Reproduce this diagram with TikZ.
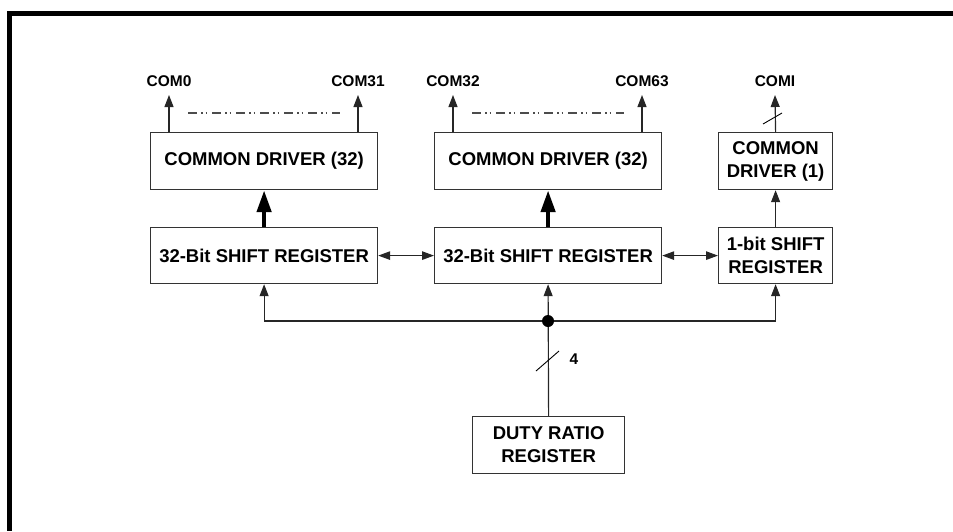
\documentclass[tikz,border=0pt]{standalone}
\usepackage{fontspec}
\setmainfont{Liberation Sans}
\usetikzlibrary{arrows.meta}
\tikzset{
  x=1pt,y=-1pt,
  blk/.style={draw=black!80,line width=1.2pt,align=center,inner sep=0pt,anchor=north west,font=\fontsize{18.5}{23}\selectfont\bfseries},
  lbl/.style={inner sep=0pt,font=\fontsize{15.5}{18}\selectfont\bfseries},
  wire/.style={draw=black!85,line width=1.15pt,-{Triangle[length=12pt,width=9pt]}},
  both/.style={draw=black!85,line width=1.15pt,{Triangle[length=12pt,width=8.5pt]}-{Triangle[length=12pt,width=8.5pt]}},
  fat/.style={draw=black,line width=4.5pt,-{Triangle[length=22pt,width=14pt]}},
  slash/.style={draw=black,line width=0.9pt},
  dots/.style={draw=black!70,line width=1.2pt,dash pattern=on 9pt off 4pt on 1.5pt off 3pt on 1.5pt off 5pt},
}
\newcommand{\blkbox}[6]{\node[blk,minimum width=#4 pt,minimum height=#5 pt] (#1) at (#2,#3) {#6};}
\begin{document}
\begin{tikzpicture}
\useasboundingbox (0,0) rectangle (953,531);
\fill[black] (7,11) rectangle (953,16);
\fill[black] (7,11) rectangle (12,531);
\blkbox{cd1}{150}{132}{227}{57}{COMMON DRIVER (32)}
\blkbox{cd2}{434}{132}{227}{57}{COMMON DRIVER (32)}
\blkbox{cd3}{718}{132}{114}{57}{\raisebox{-1.5pt}{COMMON}\\\raisebox{-1.5pt}{DRIVER (1)}}
\blkbox{sr1}{150}{227}{227}{56}{32-Bit SHIFT REGISTER}
\blkbox{sr2}{434}{227}{227}{56}{32-Bit SHIFT REGISTER}
\blkbox{sr3}{718}{227}{114}{56}{1-bit SHIFT\\REGISTER}
\blkbox{duty}{472}{416}{152}{57}{DUTY RATIO\\REGISTER}
\node[lbl] (c0) at (169,81) {COM0};
\node[lbl] (c31) at (358,81) {COM31};
\node[lbl] (c32) at (453,81) {COM32};
\node[lbl] (c63) at (642,81) {COM63};
\node[lbl] (ci) at (775,81) {COMI};
\node[lbl] (four) at (574,359) {4};
\coordinate (t0) at (169,95);
\coordinate (t31) at (358,95);
\coordinate (t32) at (453,95);
\coordinate (t63) at (642,95);
\coordinate (ti) at (775,95);
\coordinate (j) at (548,321);
\draw[wire] (t0 |- cd1.north) -- (t0);
\draw[wire] (t31 |- cd1.north) -- (t31);
\draw[wire] (t32 |- cd2.north) -- (t32);
\draw[wire] (t63 |- cd2.north) -- (t63);
\draw[wire] (cd3.north) -- (ti);
\draw[wire] (sr3.north) -- (cd3.south);
\draw[fat] (sr1.north) -- (cd1.south);
\draw[fat] (sr2.north) -- (cd2.south);
\draw[both] (sr1.east) -- (sr2.west);
\draw[both] (sr2.east) -- (sr3.west);
\draw[wire] (duty.north) -- (sr2.south);
\draw[wire] (j) -| (sr1.south);
\draw[wire] (j) -| (sr3.south);
\fill[black] (j) circle (6);
\draw[dots] (188,113) -- (340,113);
\draw[dots] (472,113) -- (624,113);
\draw[slash] (763,124) -- (782,113);
\draw[slash] (536,371) -- (559,351);
\end{tikzpicture}
\end{document}
